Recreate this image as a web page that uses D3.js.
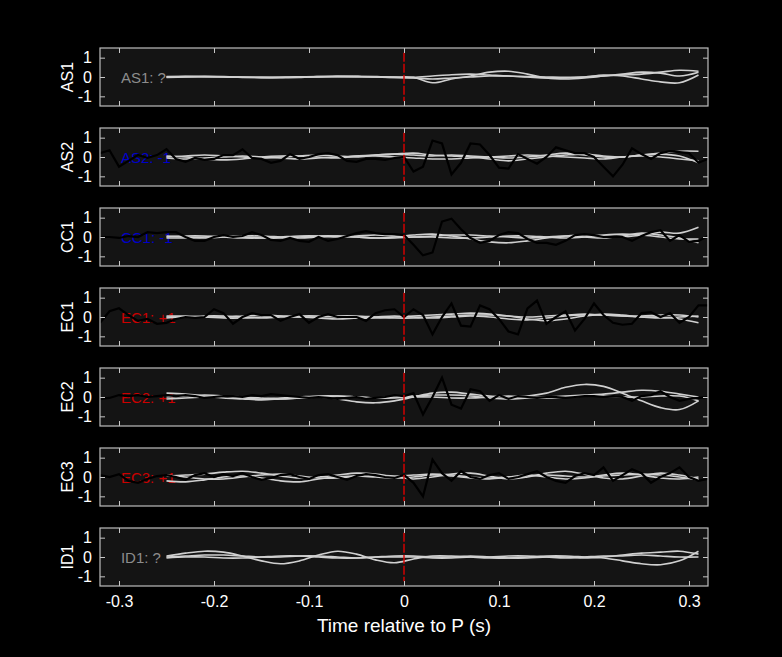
<!DOCTYPE html>
<html>
<head>
<meta charset="utf-8">
<script src="https://cdn.jsdelivr.net/npm/d3@7"></script>
<style>
  body { margin: 0; background: #000; }
  svg { display: block; font-family: "Liberation Sans", Arial, sans-serif; }
</style>
</head>
<body>
<svg id="chart" width="782" height="657"></svg>
<script>
// station names, polarity labels and their colours
var stations = ['AS1', 'AS2', 'CC1', 'EC1', 'EC2', 'EC3', 'ID1'];
var polarity = ['?', '-1', '-1', '+1', '+1', '+1', '?'];
var xTicks = [-0.3, -0.2, -0.1, 0, 0.1, 0.2, 0.3];
var yTicks = [-1, 0, 1];

// black trace: one sample every 0.01 s from -0.32 to 0.32
var blackTimes = d3.range(65).map(function(i) { return +(-0.32 + i * 0.01).toFixed(2); });
var blackAS2 = [0.2,0.35,-0.5,-0.2,0.1,-0.05,0.1,0.4,-0.1,-0.25,-0.05,-0.15,-0.1,0.1,0.1,0.4,-0.05,-0.1,-0.3,-0.2,0.15,-0.1,0,0.15,0.2,0.1,-0.2,-0.25,-0.1,-0.1,-0.15,-0.05,0,-0.75,-0.5,0.85,0.7,-0.9,-0.3,0.7,0.65,0.1,-0.55,-0.6,0.15,-0.1,-0.35,0,0.5,0.35,0.2,0.2,0,-0.5,-1,-0.4,0.45,0.15,-0.1,0.2,0.3,0.25,0.2,-0.3,-0.1];
var blackCC1 = [0,0,-0.05,0.05,0,0.25,0.2,0.25,0.25,0,-0.2,-0.2,0,0.1,0,0.05,0.25,0.1,-0.15,-0.2,-0.05,-0.2,-0.25,0,-0.2,-0.1,0.05,0.2,0.3,0.2,0.15,0.15,0.1,-0.4,-0.95,-0.8,0.8,0.95,0.4,-0.05,-0.3,-0.2,0.1,0.25,0.2,-0.1,-0.3,-0.3,-0.4,-0.2,0.1,0.15,0.1,0,0,0,-0.2,0.05,0.25,0.35,-0.2,0.1,-0.25,-0.2,0.05];
var blackEC1 = [-0.3,0.3,0.45,0.1,-0.2,-0.1,-0.35,-0.3,-0.1,0,-0.05,0,0.4,0.2,-0.35,0,0.2,0.1,0.1,-0.2,0,0.15,-0.3,0,0.15,0,0,0,-0.2,0.2,0.35,0.4,0,0.4,0.1,-0.9,0,0.7,-0.45,-0.5,0.6,0.4,-0.1,-0.75,-0.9,0.45,0.85,-0.35,0,0.3,-0.7,-0.1,0.7,0.1,-0.3,-0.4,-0.35,0.2,0.25,0,0.2,-0.3,0,0.6,0.6];
var blackEC2 = [-0.1,-0.05,0.1,0.05,0.1,0,0.05,0.1,0.05,0.1,0.05,-0.05,0,0.05,0.05,0,0.1,0.05,0.15,0.1,0.05,0,-0.05,0,-0.05,-0.1,-0.05,0,-0.1,-0.05,0,0.1,0.05,0.2,-0.9,0,1,-0.4,-0.6,0.4,0.3,-0.2,0.1,-0.1,0.05,0,-0.05,0,0,-0.05,0,0.05,0.05,0,0.05,0,-0.2,0.05,0.1,0.3,0,-0.2,-0.1,-0.05,0];
var blackEC3 = [0.1,0,0.15,-0.2,-0.3,-0.1,0.05,0.1,0,-0.15,0.1,0.2,0,0.15,0.05,0.2,0,-0.15,-0.05,0.1,0.15,0,-0.1,0.1,0.15,0,-0.15,0.05,0.15,0.1,0,-0.05,0.1,-0.3,-1,0.9,0.2,-0.2,0.3,0,-0.1,0.1,0.2,-0.1,0,0.15,0.3,0,-0.2,-0.3,0.05,0.2,0.1,0.5,-0.2,0.1,0.4,0.2,-0.3,0,0.2,0.5,0,-0.2,-0.1];

// grey traces: one sample every 0.02 s from -0.25 to 0.31
var greyTimes = d3.range(29).map(function(i) { return +(-0.25 + i * 0.02).toFixed(2); });
var greyAS1 = [
  [0,0.02,0.03,0.02,0,-0.02,-0.03,-0.02,0,0.02,0.03,0.02,0,-0.02,-0.3,-0.1,0.05,0.25,0.3,0.15,-0.05,-0.1,-0.05,0.05,0.15,0.25,0.2,0.05,0.25],
  [0.02,0.03,0.02,0.01,-0.01,-0.02,-0.01,0.01,0.02,0.03,0.02,0,-0.02,-0.02,0.05,0.12,0.15,0.1,0.05,0.02,0,-0.02,0,0.05,0.1,0.15,0.25,0.35,0.3],
  [-0.02,0,0.01,0,-0.02,-0.03,-0.02,0,0.02,0.03,0.02,0,-0.02,-0.05,-0.1,-0.05,0,0.05,0.05,0,-0.05,-0.05,0,0.1,0.05,-0.1,-0.25,-0.3,0.1]
];
var greyAS2 = [
  [0.05,0,-0.1,-0.15,-0.1,0,0.05,0.05,0,-0.05,0.05,0.1,0.15,0.2,0.1,0.05,0,-0.1,-0.2,-0.1,0,0.1,0.15,0.05,0,0.1,0.2,0.3,0.3],
  [-0.05,-0.1,-0.05,0,0.05,0,-0.05,-0.1,-0.05,0,0.05,0.05,0,-0.05,-0.1,-0.1,-0.05,0,0.05,0.1,0.05,0,-0.05,-0.1,0,0.05,0,-0.1,-0.2],
  [0,0.05,0.1,0.05,0,-0.05,0,0.05,0.1,0.05,0,0.1,0.15,0.1,0.05,0.1,0.05,0,-0.05,0,0.1,0.2,0.1,0,0,0.1,0.15,0.05,-0.3]
];
var greyCC1 = [
  [0.05,0,-0.05,0,0.05,0.05,0,-0.05,0,0.05,0,-0.05,0,0.1,0.15,0.05,-0.1,-0.25,-0.3,-0.2,-0.05,0.05,0.1,0.05,0,0.1,0.25,0.2,0.5],
  [0,0.05,0.05,0,-0.05,-0.05,0,0.05,0.05,0,0.05,0.1,0.05,0,0.05,0.1,0.1,0.05,0,-0.05,0,0.05,0,-0.05,0.05,0.2,0.1,-0.05,-0.3],
  [-0.05,-0.05,0,0.05,0,-0.05,-0.05,0,0.05,0.05,0,-0.05,-0.05,0,0,-0.05,-0.05,0,0.05,0.05,0,-0.05,0,0.1,0.15,0.1,0,-0.1,-0.1]
];
var greyEC1 = [
  [0,0,0.05,0.05,0,-0.05,0,0.05,0.05,0,-0.05,-0.05,0,0.05,0.1,0.15,0.2,0.15,0.05,-0.1,-0.2,-0.1,0.05,0.15,0.1,0,0,-0.1,-0.3],
  [-0.05,0,0,-0.05,-0.05,0,0.05,0,-0.05,-0.1,-0.05,0,0.05,0,-0.05,0,0.05,0,-0.1,-0.15,-0.05,0.05,0.1,0.1,0.05,0.05,0.1,0.1,0],
  [0.05,0.05,0,0,0.05,0.1,0.05,0,0,0.05,0.05,0,-0.05,-0.05,0,0.05,0.1,0.1,0.05,0,0.05,0.1,0.15,0.1,0.05,0,-0.05,0,0.05]
];
var greyEC2 = [
  [0.2,0.15,0.05,-0.05,-0.1,-0.15,-0.1,-0.05,0,-0.1,-0.25,-0.3,-0.2,0,0.2,0.25,0.15,0.05,0,0.05,0.2,0.5,0.65,0.55,0.2,-0.2,-0.55,-0.65,-0.2],
  [0,0.05,0.1,0.05,-0.05,-0.1,-0.05,0,0.05,0.05,0,-0.05,0,0.05,0.1,0.1,0.05,-0.05,-0.1,-0.05,0,0.05,0.1,0.15,0.25,0.35,0.3,0.15,0],
  [-0.1,-0.05,0,0.05,0,-0.05,-0.1,-0.05,0,0.05,0,-0.05,-0.05,0,0,-0.05,-0.05,0,0.05,0,-0.05,0,0.05,0.05,0,0,0.05,0.05,-0.2]
];
var greyEC3 = [
  [0.05,0.1,0.15,0.25,0.3,0.2,0.05,-0.05,0,0.1,0.2,0.15,0,-0.1,0,0.15,0.2,0.05,-0.1,0,0.2,0.3,0.15,-0.05,-0.1,0.05,0.2,0.1,-0.1],
  [-0.2,-0.25,-0.15,0,0.05,-0.05,-0.2,-0.25,-0.1,0,0.05,0,-0.05,0,0.1,0.05,-0.05,-0.1,0,0.1,0,-0.1,-0.05,0.1,0.2,0.1,-0.05,-0.1,0],
  [0.1,0,-0.1,-0.1,0,0.1,0.15,0.05,-0.05,-0.05,0.05,0.1,0.05,0.1,0.15,0.1,0,-0.05,0,0.05,0.1,0.05,0,0.05,0.1,0.15,0.1,0,-0.15]
];
var greyID1 = [
  [0.05,0.2,0.3,0.25,0.05,-0.2,-0.35,-0.2,0.1,0.3,0.15,-0.15,-0.3,-0.1,0.05,0.05,0,-0.05,-0.05,0,0.05,0.05,0,-0.05,-0.2,-0.35,-0.4,-0.2,0.3],
  [0,0.05,0.1,0.1,0.05,0,0,0.05,0.05,0,-0.05,0,0.05,0.05,0,0,0.05,0,-0.05,-0.05,0,0,-0.05,0,0.1,0.2,0.25,0.3,0.15],
  [-0.05,0,0,-0.05,-0.05,0,0.05,0.05,0,-0.05,-0.05,0,0,0,-0.05,-0.05,0,0,0.05,0.05,0,-0.05,0,0.05,0.05,0.1,0.05,0,0]
];

var blackSeries = [null, blackAS2, blackCC1, blackEC1, blackEC2, blackEC3, null];
var greySeries = [greyAS1, greyAS2, greyCC1, greyEC1, greyEC2, greyEC3, greyID1];

var svg = d3.select('#chart');
var left = 100, right = 708, panelH = 58, firstTop = 48, gap = 80;

var x = d3.scaleLinear().domain([-0.32, 0.32]).range([left, right]);

// plain hyphen minus, like the original
var fmt = function(v) { return String(v); };

function colorFor(p) {
  if (p === '+1') return '#cc0000';
  if (p === '-1') return '#0000cc';
  return '#8c8c8c';
}

stations.forEach(function(name, k) {
  var top = firstTop + k * gap;
  var y = d3.scaleLinear().domain([-1.5, 1.5]).range([top + panelH, top]);
  var g = svg.append('g');

  g.append('rect')
    .attr('x', left).attr('y', top)
    .attr('width', right - left).attr('height', panelH)
    .attr('fill', '#141414');

  // label inside the panel
  g.append('text')
    .attr('x', x(-0.298)).attr('y', y(0) + 6)
    .attr('fill', colorFor(polarity[k]))
    .attr('font-size', 15)
    .text(name + ': ' + polarity[k]);

  var clip = 'clip' + k;
  g.append('clipPath').attr('id', clip)
    .append('rect').attr('x', left).attr('y', top)
    .attr('width', right - left).attr('height', panelH);

  var line = d3.line()
    .x(function(d) { return x(d[0]); })
    .y(function(d) { return y(d[1]); });

  greySeries[k].forEach(function(vals) {
    g.append('path')
      .datum(vals.map(function(v, i) { return [greyTimes[i], v]; }))
      .attr('clip-path', 'url(#' + clip + ')')
      .attr('fill', 'none').attr('stroke', '#d0d0d0').attr('stroke-width', 1.6)
      .attr('d', line.curve(d3.curveCatmullRom));
  });

  if (blackSeries[k]) {
    g.append('path')
      .datum(blackSeries[k].map(function(v, i) { return [blackTimes[i], v]; }))
      .attr('clip-path', 'url(#' + clip + ')')
      .attr('fill', 'none').attr('stroke', '#000').attr('stroke-width', 2.2)
      .attr('d', line.curve(d3.curveLinear));
  }

  // P arrival marker
  g.append('line')
    .attr('x1', x(0)).attr('x2', x(0))
    .attr('y1', y(1.25)).attr('y2', y(-1.25))
    .attr('stroke', '#dd0000').attr('stroke-width', 1.4)
    .attr('stroke-dasharray', '9,2');

  // axes with inward ticks
  var bottom = g.append('g').attr('transform', 'translate(0,' + (top + panelH) + ')')
    .call(d3.axisBottom(x).tickValues(xTicks).tickSizeInner(-5).tickSizeOuter(0)
      .tickFormat(k === stations.length - 1 ? fmt : ''));
  g.append('g').attr('transform', 'translate(0,' + top + ')')
    .call(d3.axisTop(x).tickValues(xTicks).tickSizeInner(-5).tickSizeOuter(0).tickFormat(''));
  g.append('g').attr('transform', 'translate(' + left + ',0)')
    .call(d3.axisLeft(y).tickValues(yTicks).tickFormat(fmt).tickSizeInner(-5).tickSizeOuter(0).tickPadding(8));
  g.append('g').attr('transform', 'translate(' + right + ',0)')
    .call(d3.axisRight(y).tickValues(yTicks).tickSizeInner(-5).tickSizeOuter(0).tickFormat(''));

  g.selectAll('.domain').remove();
  g.selectAll('.tick line').attr('stroke', '#c8c8c8');
  g.selectAll('.tick text').attr('fill', '#fff').attr('font-size', 16)
    .attr('font-family', '"Liberation Sans", Arial, sans-serif');
  bottom.selectAll('.tick text').attr('dy', '1.1em');

  g.append('rect')
    .attr('x', left).attr('y', top)
    .attr('width', right - left).attr('height', panelH)
    .attr('fill', 'none').attr('stroke', '#bdbdbd').attr('stroke-width', 1.2);

  g.append('text')
    .attr('transform', 'translate(73,' + (top + panelH / 2) + ') rotate(-90)')
    .attr('text-anchor', 'middle')
    .attr('fill', '#fff').attr('font-size', 16)
    .text(name);
});

svg.append('text')
  .attr('x', (left + right) / 2).attr('y', 632)
  .attr('text-anchor', 'middle')
  .attr('fill', '#fff').attr('font-size', 19)
  .text('Time relative to P (s)');
</script>
</body>
</html>
